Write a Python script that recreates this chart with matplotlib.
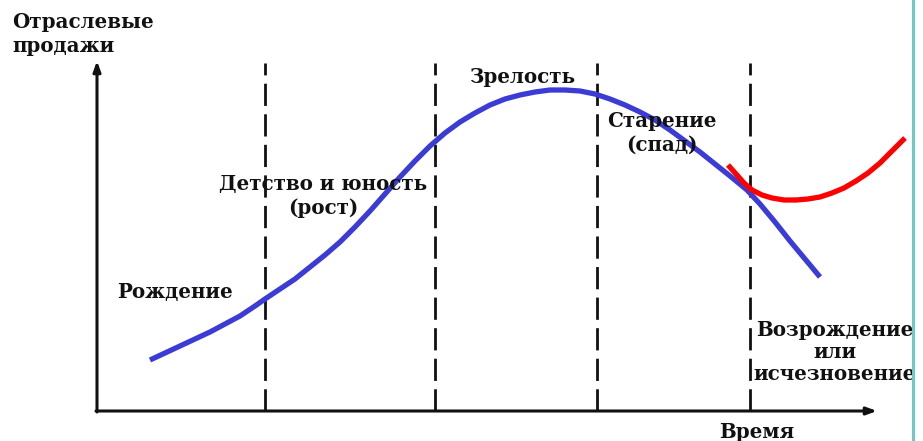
import matplotlib
matplotlib.use("Agg")
import matplotlib.pyplot as plt
from matplotlib.lines import Line2D

plt.rcParams["lines.scale_dashes"] = False

# Industry life-cycle: time (x) vs industry sales (y), origin at axis corner
growth_t = [53, 68, 83, 98, 113, 128, 143, 158, 168, 183, 198, 213, 228, 243,
            258, 273, 288, 303, 318, 333, 348, 363, 378, 393, 408, 423, 438,
            453, 468, 483, 498, 513, 528, 543, 558, 573, 588, 603, 618, 633,
            650, 663, 678, 693, 708, 723]
growth_s = [51, 58, 65, 72, 79, 87, 95, 105, 112, 122, 132, 144, 156, 169,
            184, 200, 217, 234, 250, 265, 278, 289, 298, 306, 312, 316, 319,
            321, 321, 320, 317, 312, 306, 299, 291, 281, 270, 259, 247, 235,
            221, 207, 189, 170, 152, 134]

revival_t = [631, 639, 647, 655, 665, 675, 687, 699, 711, 723, 735, 747, 759,
             771, 783, 795, 808]
revival_s = [246, 237, 228, 221, 216, 213, 211, 211, 212, 214, 218, 223, 230,
             238, 248, 260, 273]

stage_bounds = [168, 338, 500, 653]

fig = plt.figure(figsize=(9.23, 4.41), dpi=100)
ax = fig.add_axes([0, 0, 1, 1])
ax.set_xlim(-97, 826)
ax.set_ylim(-30, 411)
ax.axis("off")

# axes with arrows
ax.annotate("", xy=(0, 350), xytext=(0, -1),
            arrowprops=dict(arrowstyle="-|>,head_length=0.6,head_width=0.22",
                            lw=2.2, color="#111111", shrinkA=0, shrinkB=0))
ax.annotate("", xy=(780, 0), xytext=(-1, 0),
            arrowprops=dict(arrowstyle="-|>,head_length=0.6,head_width=0.22",
                            lw=2.2, color="#111111", shrinkA=0, shrinkB=0))

# stage boundaries
for b in stage_bounds:
    ax.plot([b, b], [0, 348], color="#111111", lw=2.0, dashes=(16, 6),
            solid_capstyle="butt", zorder=1)

ax.plot(growth_t, growth_s, color="#3b3bd6", lw=3.8, solid_capstyle="butt",
        solid_joinstyle="round", zorder=3)
ax.plot(revival_t, revival_s, color="#ff0000", lw=3.8, solid_capstyle="butt",
        solid_joinstyle="round", zorder=4)

font = dict(family="DejaVu Serif", fontweight="bold", fontsize=14.3, color="#111111")

ax.text(-85, 377, "Отраслевые\nпродажи", ha="left", va="center",
        linespacing=1.2, **font)
ax.text(660, -21, "Время", ha="center", va="center", **font)
ax.text(78, 119, "Рождение", ha="center", va="center", **font)
ax.text(226, 215, "Детство и юность\n(рост)", ha="center", va="center",
        linespacing=1.2, **font)
ax.text(425, 334, "Зрелость", ha="center", va="center", **font)
ax.text(565, 278, "Старение\n(спад)", ha="center", va="center",
        linespacing=1.2, **font)
ax.text(738, 59, "Возрождение\nили\nисчезновение", ha="center", va="center",
        linespacing=1.15, **font)

fig.add_artist(Line2D([912.5 / 923, 912.5 / 923], [0, 1], color="#6fc9c9", lw=2.2,
                      transform=fig.transFigure))

fig.savefig("out.png", dpi=100, facecolor="white")
